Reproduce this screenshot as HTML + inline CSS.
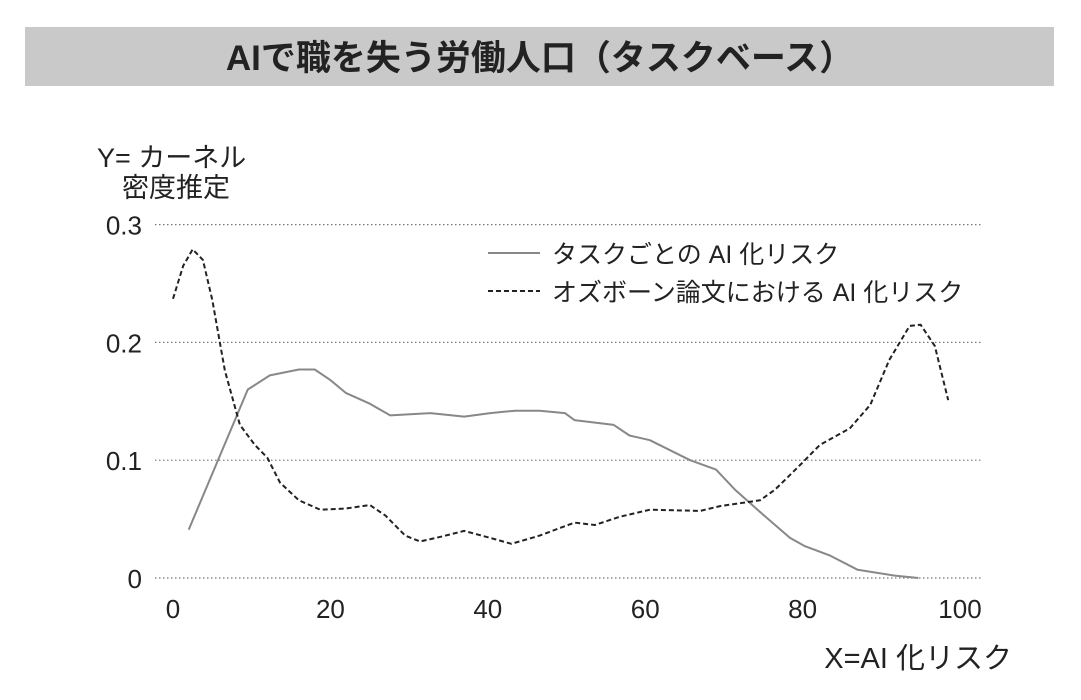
<!DOCTYPE html>
<html><head><meta charset="utf-8"><style>
body{margin:0;background:#fff;width:1081px;height:695px;overflow:hidden;font-family:"Liberation Sans","Noto Sans CJK JP",sans-serif;}
</style></head><body>
<svg width="1081" height="695" xmlns="http://www.w3.org/2000/svg" font-family="Liberation Sans, Noto Sans CJK JP, sans-serif">
<rect x="25" y="27" width="1029" height="59" fill="#c9c9c9"/>
<text x="540" y="70" text-anchor="middle" font-size="35" font-weight="bold" fill="#222">AIで職を失う労働人口（タスクベース）</text>
<text x="97" y="167" font-size="27" fill="#222">Y= カーネル</text>
<text x="122" y="197" font-size="27" fill="#222">密度推定</text>
<text x="1012" y="668" text-anchor="end" font-size="29" fill="#222">X=AI 化リスク</text>
<g id="grid"></g><g id="yt"></g><g id="xt"></g><g id="series"></g>
<g>
<line x1="488" y1="253" x2="540" y2="253" stroke="#888" stroke-width="2"/>
<text x="552" y="263" font-size="25" fill="#222">タスクごとの AI 化リスク</text>
<line x1="488" y1="291" x2="540" y2="291" stroke="#222" stroke-width="2" stroke-dasharray="5,3"/>
<text x="552" y="301" font-size="25" fill="#222">オズボーン論文における AI 化リスク</text>
</g>
</svg>
<script>
const xTicks=[0,20,40,60,80,100];
const yTicks=[0,0.1,0.2,0.3];
const yTickLabels=["0","0.1","0.2","0.3"];
const taskX=[2,9.5,12.3,16,18,20,22,25,27.6,32.7,37,40.3,43.5,46.6,49.8,51,56,58,60.6,65.7,69,71.4,74.6,78.4,80.3,83.5,87,91.7,94.7];
const taskY=[0.041,0.16,0.172,0.177,0.177,0.168,0.157,0.148,0.138,0.14,0.137,0.14,0.142,0.142,0.14,0.134,0.13,0.121,0.117,0.1,0.092,0.075,0.056,0.034,0.027,0.019,0.007,0.002,0];
const osX=[0,1.3,2.5,3.8,5,6.6,8.5,10.4,12,13.6,16,18.7,22,25,27,29.5,31.4,34,37,40.3,43,46.6,51,53.6,56.8,60.6,67,69.5,74.6,76.5,79.7,82.2,86,88.6,91,93.6,95,96.8,98.5];
const osY=[0.237,0.265,0.279,0.27,0.236,0.176,0.13,0.113,0.102,0.081,0.066,0.058,0.059,0.062,0.053,0.036,0.031,0.035,0.04,0.034,0.029,0.036,0.047,0.045,0.052,0.058,0.057,0.061,0.066,0.075,0.096,0.113,0.127,0.147,0.185,0.214,0.215,0.197,0.151];
const NS="http://www.w3.org/2000/svg";
const sx=v=>173+v*7.87, sy=v=>578-v*1178;
function mk(t,a,p){const e=document.createElementNS(NS,t);for(const k in a)e.setAttribute(k,a[k]);document.getElementById(p).appendChild(e);return e;}
yTicks.forEach((v,i)=>{
 const l=mk('line',{x1:155,x2:982,y1:sy(v),y2:sy(v),stroke:'#777','stroke-width':1.2,'stroke-dasharray':'1.5,2.5'},'grid');
 
 
 const t=mk('text',{x:142,y:sy(v)+10,'text-anchor':'end','font-size':26,fill:'#222'},'yt');t.textContent=yTickLabels[i];
 
 
});
xTicks.forEach(v=>{
 const t=mk('text',{x:sx(v),y:618,'text-anchor':'middle','font-size':26,fill:'#222'},'xt');t.textContent=v;
 
 
});
function path(xs,ys){return xs.map((x,i)=>(i?'L':'M')+sx(x).toFixed(1)+','+sy(ys[i]).toFixed(1)).join(' ');}
const p1=mk('path',{d:path(taskX,taskY),fill:'none',stroke:'#888','stroke-width':2,'stroke-linejoin':'round'},'series');


const p2=mk('path',{d:path(osX,osY),fill:'none',stroke:'#222','stroke-width':2,'stroke-dasharray':'5,3','stroke-linejoin':'round'},'series');


</script>
</body></html>
